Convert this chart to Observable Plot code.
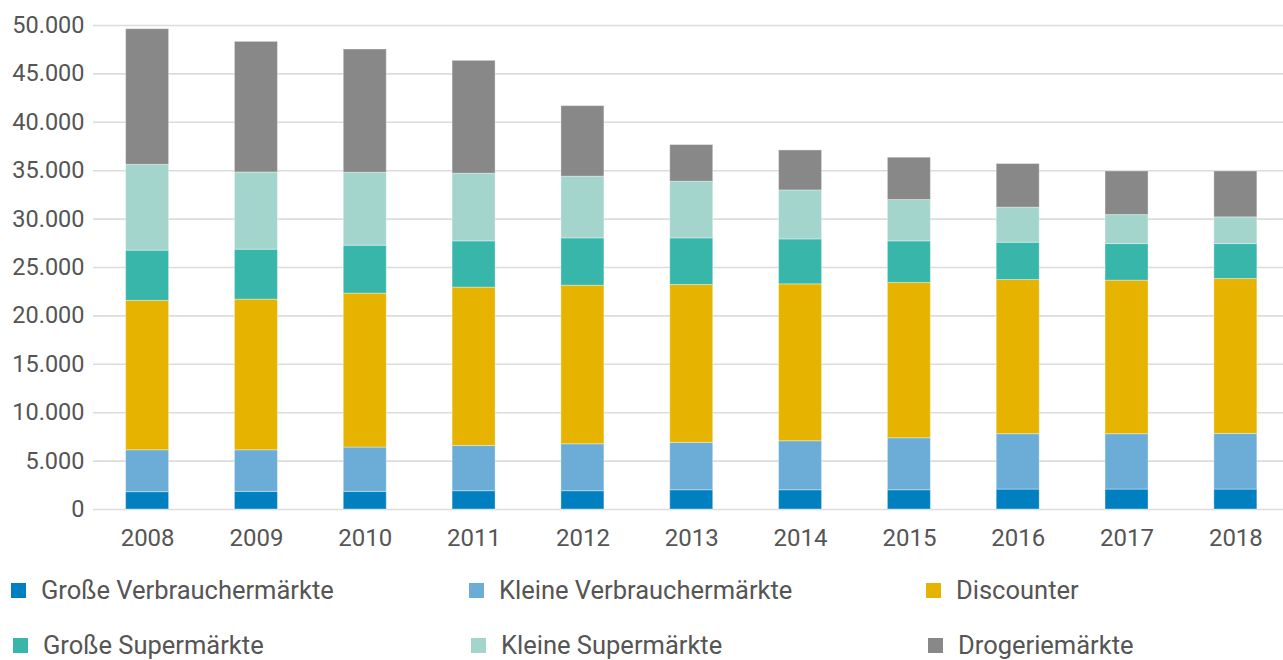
<!DOCTYPE html>
<html>
<head>
<meta charset="utf-8">
<script src="https://cdn.jsdelivr.net/npm/d3@7"></script>
<script src="https://cdn.jsdelivr.net/npm/@observablehq/plot@0.6"></script>
<style>
  html, body { margin: 0; padding: 0; background: #fff; }
  #wrap { position: relative; width: 1283px; height: 660px; font-family: Roboto, "Noto Sans", sans-serif; color: #555; overflow: hidden; }
  #chart { position: absolute; left: 0; top: 0; }
  .leg { position: absolute; display: flex; align-items: center; font-size: 25.5px; color: #555; white-space: nowrap; }
  .leg .sw { width: 15px; height: 15px; margin-right: 15px; flex: none; }
</style>
</head>
<body>
<div id="wrap"><div id="chart"></div></div>
<script>
const years = ["2008","2009","2010","2011","2012","2013","2014","2015","2016","2017","2018"];
const seriesNames = ["Große Verbrauchermärkte","Kleine Verbrauchermärkte","Discounter","Große Supermärkte","Kleine Supermärkte","Drogeriemärkte"];
const seriesColors = ["#0080c0","#6badd6","#e6b400","#38b6aa","#a3d5cd","#888888"];

const grosseVerbrauchermaerkte = [1790,1820,1820,1890,1890,1990,1990,1990,2060,2060,2060];
const kleineVerbrauchermaerkte = [4330,4300,4580,4680,4850,4890,5060,5370,5720,5720,5750];
const discounter              = [15430,15560,15900,16350,16380,16310,16210,16040,15930,15860,16000];
const grosseSupermaerkte      = [5190,5160,4950,4780,4890,4820,4640,4300,3850,3780,3610];
const kleineSupermaerkte      = [8870,7980,7540,6990,6370,5850,5060,4270,3620,3000,2760];
const drogeriemaerkte         = [14010,13490,12730,11660,7290,3790,4130,4370,4510,4500,4740];

const yTicks = [0,5000,10000,15000,20000,25000,30000,35000,40000,45000,50000];

const seriesValues = [grosseVerbrauchermaerkte, kleineVerbrauchermaerkte, discounter, grosseSupermaerkte, kleineSupermaerkte, drogeriemaerkte];
const data = [];
seriesNames.forEach((s, i) => years.forEach((y, j) => data.push({year: y, series: s, value: seriesValues[i][j]})));

const fmt = d3.formatLocale({decimal: ",", thousands: ".", grouping: [3], currency: ["", "€"]}).format(",");

const plot = Plot.plot({
  width: 1283,
  height: 560,
  marginTop: 25,
  marginBottom: 51,
  marginLeft: 93,
  marginRight: 0,
  style: {fontFamily: "Roboto, 'Noto Sans', sans-serif", fontSize: "23px", color: "#555", background: "transparent"},
  x: {domain: years, round: false, paddingInner: 0.605, paddingOuter: 0.27, align: 0.555, label: null},
  y: {domain: [0, 50000], label: null},
  color: {domain: seriesNames, range: seriesColors},
  marks: [
    Plot.ruleY(yTicks, {stroke: "#dcdcdc", strokeWidth: 1.6}),
    Plot.barY(data, {x: "year", y: "value", fill: "series", stroke: "#ffffff", strokeOpacity: 0.35, strokeWidth: 1}),
    Plot.axisX({tickSize: 0, tickPadding: 19, fontSize: 24}),
    Plot.axisY({ticks: yTicks, tickFormat: fmt, tickSize: 0, tickPadding: 9, fontSize: 23.5})
  ]
});
document.getElementById("chart").appendChild(plot);

const legendPos = [
  {x: 11, y: 590}, {x: 469, y: 590}, {x: 926, y: 590},
  {x: 13, y: 645}, {x: 471, y: 645}, {x: 928, y: 645}
];
const wrap = document.getElementById("wrap");
seriesNames.forEach((s, i) => {
  const d = document.createElement("div");
  d.className = "leg";
  d.style.left = legendPos[i].x + "px";
  d.style.top = (legendPos[i].y - 15) + "px";
  d.style.height = "30px";
  const sw = document.createElement("span");
  sw.className = "sw";
  sw.style.background = seriesColors[i];
  const t = document.createElement("span");
  t.textContent = s;
  d.appendChild(sw); d.appendChild(t);
  wrap.appendChild(d);
});
</script>
</body>
</html>
